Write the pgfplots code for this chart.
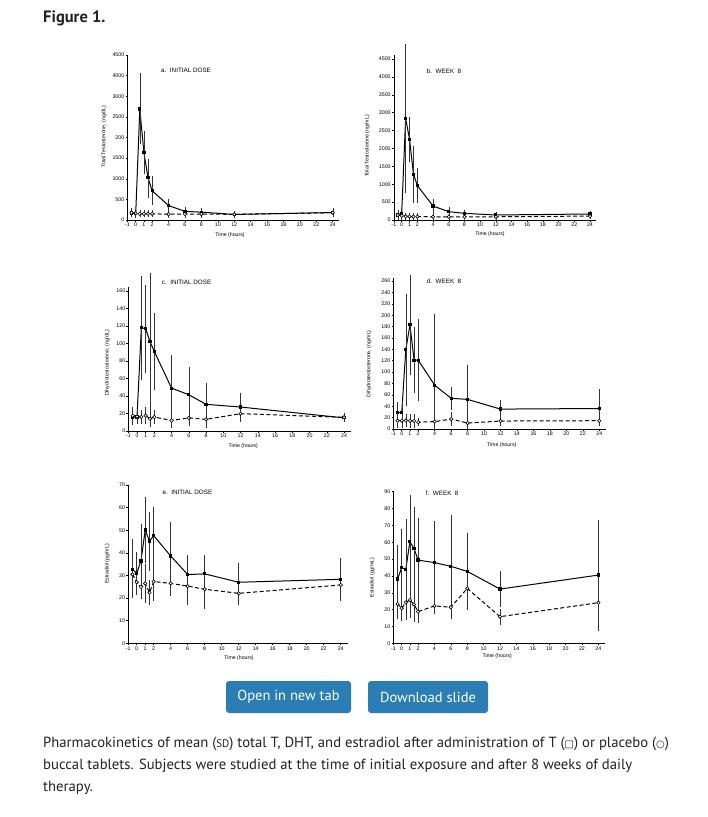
\documentclass[border=0pt]{standalone}
\usepackage{fontspec}
\setmainfont{Liberation Sans}
\newfontfamily\capfont{PT Sans}
\newfontfamily\symfont{DejaVu Sans}
\usepackage{pgfplots}
\usepackage{pgfplotstable}
\pgfplotsset{compat=1.18}
\definecolor{btn}{RGB}{42,125,181}
\definecolor{captxt}{RGB}{34,34,34}

\pgfplotstableread{
x y ep em
-0.5 170 80 80
0 150 80 80
0.5 2690 840 830
1 1630 490 480
1.5 1025 430 460
2 710 320 310
4 350 135 150
6 210 80 80
8 190 70 70
12 135 60 60
24 180 80 80
}\tA
\pgfplotstableread{
x y ep em
-0.5 178 80 80
0 160 70 70
0.5 150 60 60
1 150 60 60
1.5 150 60 60
2 150 60 60
4 140 60 60
6 145 70 70
8 145 70 70
12 137 60 60
24 178 80 80
}\pA
\pgfplotstableread{
x y ep em
-0.5 140 100 100
0 190 110 110
0.5 2840 2050 2050
1 2255 600 600
1.5 1277 760 760
2 960 450 450
4 390 170 170
6 233 100 100
8 186 70 70
12 140 60 60
24 168 60 60
}\tB
\pgfplotstableread{
x y ep em
-0.5 140 90 90
0 120 80 80
0.5 100 70 70
1 100 70 70
1.5 95 60 60
2 95 60 60
4 90 60 60
6 90 60 60
8 90 60 60
12 90 60 60
24 110 60 60
}\pB
\pgfplotstableread{
x y ep em
-0.5 16 5 5
0 16 5 5
0.5 118 58 58
1 117 49 49
1.5 102 77 79
2 91 43 43
4 49 36 36
6 41.5 30 30
8 30.5 23 23
12 27.4 15 15
24 15 3 3
}\tC
\pgfplotstableread{
x y ep em
-0.5 17.5 9 9
0 16.4 7 7
0.5 16 7 7
1 17.5 8 8
1.5 14 8 8
2 16 7 7
4 12 7 7
6 15 8 8
8 13.3 8 8
12 19.8 8 8
24 15.6 4 4
}\pC
\pgfplotstableread{
x y ep em
-0.5 29 16 16
0 29 18 18
0.5 140 95 98
1 183 86 86
1.5 121 56 56
2 121 70 70
4 77 123 75
6 54 18 18
8 52 59 42
12 35 13 13
24 36 32 15
}\tD
\pgfplotstableread{
x y ep em
-0.5 14.6 10 10
0 14.6 10 10
0.5 15 10 10
1 14.6 10 10
1.5 14 10 10
2 12 5 5
4 13 10 10
6 17.5 10 10
8 10.5 8 8
12 14 6 6
24 14.6 8 8
}\pD
\pgfplotstableread{
x y ep em
-0.5 32.7 13 12
0 31 9 9
0.5 36.4 16 16
1 50.1 14 14
1.5 45.2 12.5 12.5
2 47.6 12 12
4 38.6 14.5 14.5
6 30.4 8 8
8 30.7 7.8 7.8
12 27 8 8
24 28.3 9 9
}\tE
\pgfplotstableread{
x y ep em
-0.5 30.5 8 8
0 27 5 5
0.5 25 5 5
1 26.5 8 8
1.5 22.4 5 5
2 27.3 8 8
4 26.5 5 5
6 25.3 8 8
8 23.9 8 8
12 22.1 4.5 4.5
24 25.8 6 6
}\pE
\pgfplotstableread{
x y ep em
-0.5 38.2 19.5 19.5
0 44.9 22 22
0.5 43.9 29 29
1 60.3 27 27
1.5 56.4 24 24
2 49.4 24 24
4 47.9 24 24
6 45.7 30 30
8 42.7 22 22
12 32.2 10 10
24 40.5 32 32
}\tF
\pgfplotstableread{
x y ep em
-0.5 23.3 8 8
0 20.8 7 7
0.5 24.3 10 10
1 25.7 10 10
1.5 23.1 10 10
2 18.8 6 6
4 22.2 4 4
6 21.4 6 6
8 32.6 12 12
12 15.8 4 4
24 24.1 16 16
}\pF

\pgfplotsset{
  pk/.style={scale only axis, axis x line*=bottom, axis y line*=left,
    xmin=-1, xmax=24.8, ymin=0, enlargelimits=false, clip=false,
    xtick={-1,0,1,2,4,6,8,10,12,14,16,18,20,22,24},
    xticklabels={-1,0,1,2,4,6,8,10,12,14,16,18,20,22,24},
    tick align=outside, major tick length=2pt,
    tick style={black, line width=0.5pt},
    axis line style={line width=0.6pt},
    tick label style={font=\fontsize{5.3}{6}\selectfont, inner sep=1pt},
    anchor=south west},
  tser/.style={black, line width=1pt, mark=square*, mark size=1.1pt,
    error bars/.cd, y dir=both, y explicit,
    error bar style={solid, line width=0.45pt, black!80},
    error mark options={solid, mark size=1.2pt, line width=0.45pt, black!80}},
  pser/.style={black, line width=1pt, dash pattern=on 4pt off 2.5pt,
    mark=*, mark size=1.7pt, mark options={solid, fill=white, line width=0.6pt},
    error bars/.cd, y dir=both, y explicit,
    error bar style={solid, line width=0.45pt, black!80},
    error mark options={solid, mark size=1.2pt, line width=0.45pt, black!80}},
}
\newcommand{\plotpair}[2]{%
  \addplot[tser] table[x=x, y=y, y error plus=ep, y error minus=em]{#1};
  \addplot[pser] table[x=x, y=y, y error plus=ep, y error minus=em]{#2};}
\newcommand{\ttl}{\fontsize{6.3}{7}\selectfont}
\newcommand{\lbl}{\fontsize{5.2}{6}\selectfont}

\begin{document}
\begin{tikzpicture}
\path[use as bounding box, fill=white] (0,0) rectangle (708pt,-817pt);

% a
\begin{axis}[pk, at={(127.5pt,-220pt)}, width=211.8pt, height=165pt, ymax=4000,
  ytick={0,500,1000,1500,2000,2500,3000,3500,4000},
  yticklabels={0,500,1000,1500,200,2500,3000,4000,4500}]
\plotpair{\tA}{\pA}
\end{axis}
% b
\begin{axis}[pk, at={(393.85pt,-220pt)}, width=202.4pt, height=164.6pt, ymax=4600,
  ytick={0,500,1000,1500,2000,2500,3000,3500,4000,4500},
  yticklabels={0,500,1000,1500,2000,2500,3000,3500,4000,4500}]
\plotpair{\tB}{\pB}
\end{axis}
% c
\begin{axis}[pk, at={(128.4pt,-431pt)}, width=222.5pt, height=144.4pt, ymax=165,
  ytick={0,20,40,60,80,100,120,140,160},
  yticklabels={0,20,40,60,80,100,120,140,160}]
\plotpair{\tC}{\pC}
\end{axis}
% d
\begin{axis}[pk, at={(393.5pt,-429pt)}, width=212.4pt, height=150.8pt, ymax=265,
  ytick={0,20,40,60,80,100,120,140,160,180,200,220,240,260},
  yticklabels={0,20,40,60,80,100,120,140,160,180,200,220,240,260}]
\plotpair{\tD}{\pD}
\end{axis}
% e
\begin{axis}[pk, at={(128.2pt,-643.3pt)}, width=219.3pt, height=158.3pt, ymax=70,
  ytick={0,10,20,30,40,50,60,70},
  yticklabels={0,10,20,30,40,50,60,70}]
\plotpair{\tE}{\pE}
\end{axis}
% f
\begin{axis}[pk, at={(393.5pt,-643.3pt)}, width=211.4pt, height=151.6pt, ymax=90,
  ytick={0,10,20,30,40,50,60,70,80,90},
  yticklabels={0,10,20,30,40,50,60,70,80,90}]
\plotpair{\tF}{\pF}
\end{axis}

% panel titles
\node[anchor=west, inner sep=0] at (161pt,-70pt) {\ttl a.\ \ INITIAL DOSE};
\node[anchor=west, inner sep=0] at (426.7pt,-71.7pt) {\ttl b.\ \ WEEK\ \ 8};
\node[anchor=west, inner sep=0] at (161.7pt,-282.3pt) {\ttl c.\ \ INITIAL DOSE};
\node[anchor=west, inner sep=0] at (426.7pt,-281.7pt) {\ttl d.\ \ WEEK\ \ 8};
\node[anchor=west, inner sep=0] at (162.3pt,-492.7pt) {\ttl e.\ \ INITIAL DOSE};
\node[anchor=west, inner sep=0] at (425.7pt,-493.3pt) {\ttl f.\ \ WEEK\ \ 8};

% y labels
\node[rotate=90, inner sep=0] at (104pt,-136.7pt) {\lbl Total Testosterone, (ng/dL)};
\node[rotate=90, inner sep=0] at (367.3pt,-146pt) {\lbl Total Testosterone (ng/mL)};
\node[rotate=90, inner sep=0] at (107.3pt,-363pt) {\lbl Dihydrotestosterone, (ng/dL)};
\node[rotate=90, inner sep=0] at (369pt,-364pt) {\lbl Dihydrotestosterone, (ng/mL)};
\node[rotate=90, inner sep=0] at (107.3pt,-564pt) {\lbl Estradiol (pg/mL)};
\node[rotate=90, inner sep=0] at (372.3pt,-577.5pt) {\lbl Estradiol (pg/mL)};

% x labels
\node[inner sep=0] at (230pt,-235pt) {\lbl Time (hours)};
\node[inner sep=0] at (490pt,-234pt) {\lbl Time (hours)};
\node[inner sep=0] at (243.3pt,-445.7pt) {\lbl Time (hours)};
\node[inner sep=0] at (501.7pt,-444.7pt) {\lbl Time (hours)};
\node[inner sep=0] at (239pt,-658.4pt) {\lbl Time (hours)};
\node[inner sep=0] at (497.3pt,-656.4pt) {\lbl Time (hours)};

% heading
\node[anchor=base west, inner sep=0, text=captxt] at (43pt,-22pt) {\capfont\bfseries\fontsize{16.5}{18}\selectfont Figure 1.};

% buttons
\fill[btn, rounded corners=3pt] (226pt,-681pt) rectangle (351pt,-713pt);
\fill[btn, rounded corners=3pt] (368pt,-681pt) rectangle (488pt,-713pt);
\node[text=white, inner sep=0] at (288.5pt,-697pt) {\capfont\fontsize{14.5}{16}\selectfont Open in new tab};
\node[text=white, inner sep=0] at (428pt,-697pt) {\capfont\fontsize{14.5}{16}\selectfont Download slide};

% caption
\begin{scope}[every node/.style={anchor=base west, inner sep=0, text=captxt}]
\node at (43pt,-747pt) {\capfont\fontsize{14.7}{16}\selectfont Pharmacokinetics of mean ({\fontsize{11}{12}\selectfont SD}) total T, DHT, and estradiol after administration of T ({\symfont\fontsize{10}{12}\selectfont □}) or placebo ({\symfont\fontsize{10}{12}\selectfont ○})};
\node at (43pt,-769pt) {\capfont\fontsize{14.7}{16}\selectfont buccal tablets. Subjects were studied at the time of initial exposure and after 8 weeks of daily};
\node at (43pt,-791pt) {\capfont\fontsize{14.7}{16}\selectfont therapy.};
\end{scope}
\end{tikzpicture}
\end{document}
